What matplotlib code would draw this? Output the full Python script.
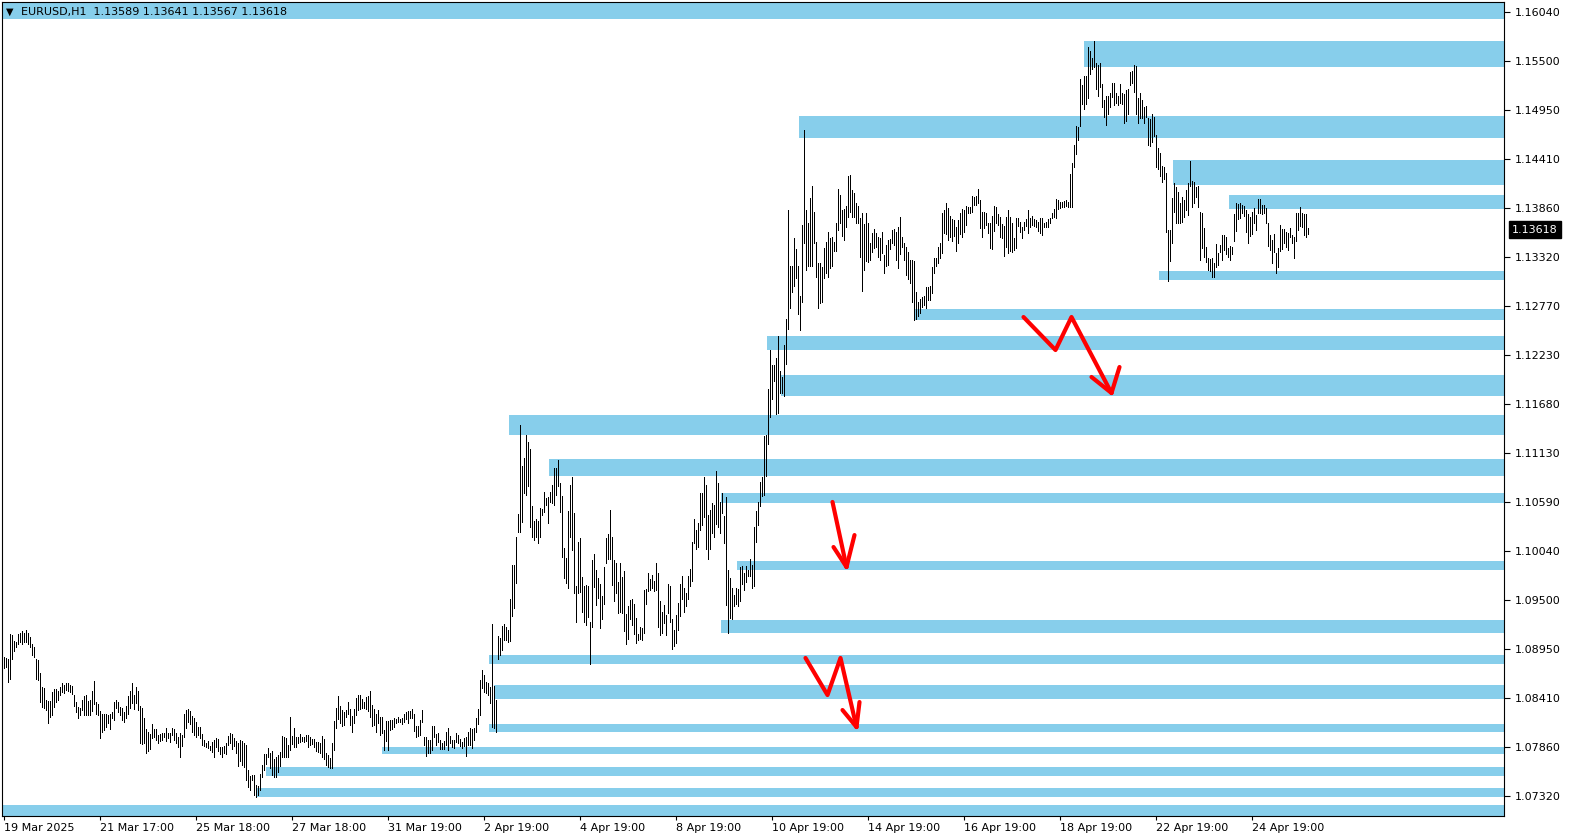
import numpy as np
import matplotlib
matplotlib.use("Agg")
import matplotlib.pyplot as plt

# EURUSD H1 bars, price x 10000 (one entry per hourly bar)
high_pips = [
    10887, 10885, 10884, 10912, 10911, 10904, 10903, 10912, 10913, 10915,
    10913, 10917, 10913, 10909, 10901, 10898, 10884, 10883, 10869, 10853,
    10852, 10839, 10838, 10838, 10848, 10851, 10851, 10849, 10853, 10858,
    10855, 10858, 10858, 10855, 10854, 10844, 10836, 10831, 10830, 10839,
    10843, 10844, 10838, 10839, 10849, 10860, 10836, 10834, 10826, 10823,
    10823, 10823, 10822, 10823, 10825, 10837, 10839, 10837, 10831, 10830,
    10825, 10832, 10843, 10849, 10858, 10844, 10853, 10849, 10832, 10830,
    10819, 10806, 10803, 10801, 10812, 10806, 10806, 10800, 10801, 10802,
    10802, 10808, 10802, 10802, 10808, 10806, 10802, 10798, 10802, 10800,
    10823, 10828, 10829, 10826, 10821, 10819, 10814, 10809, 10809,
    10801, 10794, 10791, 10793, 10788, 10792, 10794, 10796, 10795, 10786,
    10786, 10788, 10791, 10799, 10802, 10801, 10796, 10793, 10791, 10794,
    10793, 10791, 10789, 10761, 10754, 10755, 10755, 10744, 10743, 10756,
    10766, 10779, 10779, 10785, 10780, 10782, 10773, 10775, 10778, 10781,
    10799, 10798, 10796, 10789, 10820, 10799, 10808, 10798, 10798, 10801,
    10798, 10798, 10800, 10800, 10798, 10795, 10795, 10792, 10792, 10791,
    10799, 10795, 10780, 10778, 10774, 10791, 10815, 10830, 10843, 10832,
    10828, 10825, 10828, 10836, 10829, 10821, 10829, 10841, 10844, 10844,
    10840, 10836, 10842, 10843, 10849, 10833, 10829, 10823, 10828, 10820,
    10820, 10805, 10815, 10815, 10816, 10816, 10819, 10818, 10820, 10818,
    10819, 10823, 10825, 10826, 10826, 10829, 10823, 10810, 10810, 10816,
    10828, 10798, 10798, 10794, 10794, 10810, 10810, 10801, 10802, 10794,
    10791, 10793, 10803, 10808, 10799, 10794, 10794, 10802, 10800, 10795,
    10792, 10796, 10798, 10803, 10808, 10806, 10808, 10819, 10829, 10861,
    10872, 10867, 10859, 10858, 10853, 10923, 10854, 10839, 10910, 10908,
    10921, 10923, 10920, 10917, 10951, 10989, 10989, 11020, 11046, 11145,
    11099, 11108, 11133, 11126, 11118, 11055, 11038, 11040, 11038, 11052,
    11051, 11070, 11063, 11064, 11070, 11078, 11097, 11097, 11106, 11080,
    11066, 11008, 10997, 11049, 11078, 11087, 11047, 10965, 11015, 11019,
    10976, 10965, 10967, 10966, 10926,
    10994, 11001, 10983, 10974, 10968, 10954, 10987, 11019, 11023, 11050,
    11020, 10995, 10991, 10970, 10991, 10976, 10982, 10934, 10943, 10950,
    10951, 10946, 10930, 10912, 10920, 10919, 10961, 10962, 10980, 10973,
    10978, 10971, 10991, 10980, 10949, 10937, 10944, 10933, 10968, 10966,
    10929, 10917, 10933, 10947, 10968, 10977, 10963, 10958, 10977, 10984,
    11015, 11040, 11028, 11036, 11069, 11069, 11087, 11078, 11045, 11050,
    11058, 11056, 11093, 11080, 11059, 11069, 11043, 11064, 10983, 10974,
    10963, 10955, 10963, 10962, 10987, 10988, 10980, 10988, 10983, 10996,
    10989, 11031, 11049, 11059, 11081, 11087, 11132, 11134, 11185, 11228,
    11211, 11211, 11219, 11244, 11205, 11198, 11234, 11262, 11384, 11321,
    11321, 11353, 11340, 11321, 11288, 11367, 11473, 11384, 11369, 11397,
    11410, 11381, 11348, 11325, 11325, 11320, 11342, 11348, 11359, 11353,
    11354, 11348, 11369, 11407, 11400, 11384, 11385, 11388, 11422, 11423,
    11406, 11403, 11392, 11388, 11375, 11380, 11368, 11380, 11369, 11347,
    11358, 11363, 11358, 11354, 11353, 11359, 11334, 11345, 11350, 11351,
    11361, 11363, 11359, 11365, 11376, 11354, 11347, 11343, 11337, 11328,
    11328, 11327, 11292, 11281, 11285, 11287, 11288, 11298, 11298, 11299,
    11320, 11330, 11330, 11343, 11347, 11380, 11384, 11392, 11386, 11377,
    11374, 11373, 11365, 11373, 11380, 11385, 11384, 11388, 11387, 11387,
    11399, 11398, 11399, 11407, 11395, 11381, 11381, 11380, 11369, 11369,
    11377, 11388, 11387, 11379, 11376,
    11368, 11366, 11376, 11384, 11376, 11369, 11353, 11375, 11375, 11370,
    11365, 11370, 11374, 11384, 11375, 11377, 11374, 11373, 11370, 11375,
    11375, 11369, 11370, 11374, 11375, 11380, 11385, 11396, 11395, 11393,
    11393, 11394, 11395, 11393, 11424, 11436, 11456, 11477, 11476, 11529,
    11523, 11533, 11533, 11565, 11561, 11553, 11572, 11547, 11545, 11547,
    11524, 11506, 11510, 11511, 11514, 11525, 11525, 11514, 11511, 11524,
    11514, 11513, 11517, 11518, 11537, 11538, 11545, 11544, 11508, 11514,
    11506, 11498, 11499, 11486, 11485, 11490, 11487, 11467, 11453, 11447,
    11433, 11432, 11425, 11361, 11361, 11397, 11414, 11409, 11404, 11392,
    11398, 11395, 11406, 11414, 11438, 11416, 11415, 11409, 11410, 11381,
    11380, 11364, 11343, 11330, 11329, 11330, 11325, 11346, 11336, 11345,
    11356, 11356, 11354, 11341, 11344, 11343, 11379, 11391, 11390, 11391,
    11389, 11388, 11384, 11379, 11376, 11381, 11386, 11378, 11396, 11396,
    11389, 11389, 11386, 11369, 11356, 11350, 11357, 11336, 11341, 11367,
    11363, 11363, 11359, 11358, 11364, 11356, 11354, 11380, 11380, 11387,
    11380, 11379, 11379, 11364,
]
low_pips = [
    10874, 10875, 10859, 10862, 10884, 10893, 10898, 10901, 10903, 10901,
    10903, 10903, 10901, 10898, 10889, 10887, 10862, 10861, 10837, 10831,
    10830, 10828, 10813, 10820, 10822, 10831, 10837, 10839, 10844, 10848,
    10847, 10850, 10849, 10848, 10845, 10832, 10825, 10819, 10822, 10828,
    10822, 10822, 10822, 10822, 10826, 10834, 10823, 10822, 10796, 10803,
    10805, 10809, 10813, 10807, 10819, 10816, 10830, 10825, 10822, 10816,
    10814, 10819, 10823, 10830, 10835, 10829, 10835, 10828, 10791, 10790,
    10791, 10780, 10782, 10784, 10796, 10798, 10794, 10791, 10793, 10794,
    10798, 10793, 10796, 10792, 10800, 10794, 10791, 10786, 10775, 10788,
    10798, 10808, 10814, 10812, 10803, 10800, 10798, 10800, 10796,
    10789, 10788, 10786, 10785, 10783, 10781, 10775, 10786, 10782, 10779,
    10775, 10780, 10779, 10789, 10791, 10784, 10788, 10780, 10765, 10771,
    10766, 10764, 10750, 10742, 10739, 10750, 10733, 10731, 10733, 10739,
    10753, 10761, 10768, 10775, 10763, 10755, 10753, 10753, 10759, 10765,
    10775, 10775, 10775, 10775, 10783, 10790, 10786, 10786, 10791, 10792,
    10793, 10792, 10793, 10786, 10789, 10790, 10786, 10782, 10781, 10780,
    10775, 10773, 10766, 10764, 10763, 10763, 10783, 10808, 10818, 10813,
    10810, 10811, 10820, 10823, 10811, 10803, 10813, 10822, 10828, 10829,
    10830, 10830, 10829, 10826, 10820, 10810, 10811, 10803, 10813, 10800,
    10802, 10783, 10793, 10783, 10805, 10806, 10809, 10813, 10814, 10814,
    10812, 10814, 10818, 10813, 10819, 10819, 10804, 10798, 10799, 10800,
    10814, 10789, 10777, 10780, 10780, 10783, 10798, 10789, 10792, 10784,
    10784, 10784, 10789, 10783, 10791, 10786, 10785, 10792, 10791, 10788,
    10785, 10788, 10777, 10789, 10789, 10785, 10794, 10803, 10812, 10822,
    10852, 10848, 10847, 10844, 10835, 10809, 10808, 10803, 10884, 10889,
    10894, 10906, 10906, 10903, 10904, 10932, 10941, 10969, 11026, 11026,
    11037, 11069, 11067, 11077, 11031, 11020, 11017, 11020, 11013, 11020,
    11044, 11048, 11056, 11036, 11059, 11058, 11056, 11067, 11077, 11048,
    10998, 10974, 10969, 10963, 11020, 11006, 10958, 10926, 10958, 10959,
    10937, 10926, 10922, 10931, 10879,
    10920, 10964, 10944, 10952, 10919, 10929, 10946, 10991, 10996, 10996,
    10967, 10949, 10958, 10935, 10937, 10935, 10915, 10901, 10907, 10929,
    10922, 10912, 10902, 10906, 10907, 10906, 10913, 10946, 10960, 10961,
    10963, 10960, 10961, 10920, 10911, 10913, 10924, 10911, 10936, 10926,
    10895, 10899, 10902, 10917, 10932, 10951, 10937, 10943, 10951, 10965,
    10971, 11013, 11007, 11009, 11028, 11033, 11042, 11007, 10996, 11007,
    11025, 11020, 11034, 11031, 11025, 11047, 11013, 10944, 10913, 10930,
    10929, 10943, 10945, 10943, 10949, 10968, 10961, 10970, 10977, 10977,
    10963, 10966, 11015, 11033, 11054, 11066, 11067, 11088, 11124, 11153,
    11174, 11194, 11157, 11158, 11180, 11180, 11177, 11212, 11251, 11275,
    11293, 11299, 11308, 11268, 11250, 11281, 11347, 11317, 11321, 11321,
    11321, 11347, 11309, 11275, 11280, 11281, 11308, 11314, 11309, 11319,
    11321, 11338, 11338, 11362, 11369, 11355, 11350, 11365, 11376, 11381,
    11376, 11376, 11369, 11369, 11332, 11294, 11317, 11327, 11326, 11328,
    11337, 11341, 11343, 11332, 11328, 11336, 11314, 11321, 11323, 11340,
    11347, 11345, 11328, 11319, 11335, 11343, 11328, 11311, 11307, 11303,
    11281, 11261, 11262, 11266, 11269, 11276, 11278, 11275, 11284, 11284,
    11291, 11314, 11321, 11325, 11330, 11336, 11358, 11357, 11350, 11354,
    11349, 11355, 11338, 11347, 11357, 11354, 11359, 11367, 11380, 11380,
    11382, 11389, 11389, 11392, 11364, 11354, 11364, 11367, 11358, 11341,
    11340, 11360, 11369, 11367, 11354,
    11353, 11333, 11343, 11336, 11338, 11337, 11339, 11342, 11366, 11359,
    11353, 11361, 11366, 11358, 11365, 11367, 11366, 11365, 11360, 11358,
    11356, 11365, 11365, 11365, 11369, 11375, 11376, 11375, 11385, 11386,
    11387, 11387, 11388, 11387, 11387, 11387, 11432, 11446, 11462, 11477,
    11502, 11496, 11502, 11508, 11535, 11541, 11543, 11518, 11510, 11520,
    11498, 11487, 11478, 11491, 11498, 11509, 11500, 11503, 11500, 11503,
    11502, 11480, 11483, 11491, 11523, 11525, 11515, 11491, 11480, 11486,
    11486, 11480, 11487, 11456, 11455, 11459, 11466, 11432, 11429, 11421,
    11415, 11418, 11359, 11305, 11327, 11347, 11382, 11369, 11369, 11369,
    11370, 11376, 11384, 11378, 11410, 11387, 11391, 11398, 11387, 11328,
    11341, 11332, 11326, 11317, 11316, 11309, 11309, 11320, 11323, 11337,
    11328, 11339, 11335, 11332, 11328, 11335, 11349, 11360, 11374, 11375,
    11380, 11377, 11359, 11347, 11355, 11357, 11369, 11361, 11380, 11380,
    11379, 11380, 11369, 11344, 11339, 11325, 11337, 11314, 11320, 11338,
    11340, 11347, 11343, 11339, 11354, 11347, 11330, 11349, 11361, 11366,
    11365, 11356, 11354, 11357,
]

# time axis labels, one every 48 hourly bars
time_labels = ["19 Mar 2025", "21 Mar 17:00", "25 Mar 18:00", "27 Mar 18:00",
               "31 Mar 19:00", "2 Apr 19:00", "4 Apr 19:00", "8 Apr 19:00",
               "10 Apr 19:00", "14 Apr 19:00", "16 Apr 19:00", "18 Apr 19:00",
               "22 Apr 19:00", "24 Apr 19:00"]
bars_per_label = 48

price_ticks = [1.16040, 1.15500, 1.14950, 1.14410, 1.13860, 1.13320, 1.12770,
               1.12230, 1.11680, 1.11130, 1.10590, 1.10040, 1.09500, 1.08950,
               1.08410, 1.07860, 1.07320]

last_price = 1.13618
header = "EURUSD,H1  1.13589 1.13641 1.13567 1.13618"

# zones: first bar index, lower price, upper price (-5 = from the left edge)
zone_start = [-5, 540, 397.5, 584.5, 612.5, 577.5, 455, 381.5, 388.5, 252.5,
              272.5, 358.5, 366.5, 358.5, 242.5, 245, 242.5, 189, 131, 126, -5]
zone_low = [1.15965, 1.15428, 1.14638, 1.14115, 1.13849, 1.13059, 1.12614,
            1.12280, 1.11769, 1.11335, 1.10879, 1.10579, 1.09833, 1.09133,
            1.08788, 1.08399, 1.08032, 1.07787, 1.07542, 1.07309, 1.07050]
zone_high = [1.16200, 1.15717, 1.14883, 1.14393, 1.14004, 1.13159, 1.12736,
             1.12436, 1.12002, 1.11557, 1.11068, 1.10690, 1.09934, 1.09277,
             1.08888, 1.08554, 1.08121, 1.07865, 1.07643, 1.07409, 1.07220]

# hand drawn red arrows: (bar index, price) points, arrowhead arm tips
arrow_paths = [
    [(510, 1.12647), (526, 1.12280), (534, 1.12647), (554, 1.11802)],
    [(414.5, 1.10590), (421.5, 1.09867)],
    [(401, 1.08855), (412, 1.08443), (418.5, 1.08855), (426.5, 1.08087)],
]
arrow_arms = [
    [(544, 1.11980), (558, 1.12091)],
    [(415, 1.10089), (425.5, 1.10222)],
    [(419.5, 1.08276), (428, 1.08365)],
]

highs = np.array(high_pips) / 10000
lows = np.array(low_pips) / 10000
bar_x = np.arange(len(highs))

W, H = 1570, 840
fig = plt.figure(figsize=(W / 100, H / 100), dpi=100)
ax = fig.add_axes([2 / W, 24 / H, 1502 / W, 814 / H])
ax.set_xlim(-0.75, 750.25)
ax.set_ylim(1.070974, 1.161508)

zone_color = "#87CEEB"
for x0, lo, hi in zip(zone_start, zone_low, zone_high):
    ax.barh((lo + hi) / 2, 800 - x0, left=x0, height=hi - lo,
            color=zone_color, linewidth=0, zorder=1)

ax.vlines(bar_x, lows, highs, colors="black", linewidth=0.5,
          antialiased=False, zorder=2)

for path, arms in zip(arrow_paths, arrow_arms):
    px, py = zip(*path)
    ax.plot(px, py, color="red", lw=3, solid_capstyle="round",
            solid_joinstyle="round", zorder=3)
    for ax_, ay_ in arms:
        ax.plot([px[-1], ax_], [py[-1], ay_], color="red", lw=3,
                solid_capstyle="round", zorder=3)

# axes, ticks
for s in ax.spines.values():
    s.set_color("black")
    s.set_linewidth(0.8)

ax.set_xticks(np.arange(len(time_labels)) * bars_per_label, time_labels)
for lab in ax.get_xticklabels():
    lab.set_ha("left")
ax.tick_params(axis="x", length=3, width=0.8, pad=2, labelsize=8)

ax.yaxis.tick_right()
ax.set_yticks(price_ticks, [f"{p:.5f}" for p in price_ticks])
ax.tick_params(axis="y", length=4, width=0.8, pad=4, labelsize=8)

ax.text(1 + 8 / 1502, last_price, f"{last_price:.5f}",
        transform=ax.get_yaxis_transform(), ha="left", va="center",
        color="white", fontsize=8, clip_on=False,
        bbox=dict(facecolor="black", edgecolor="black",
                  boxstyle="square,pad=0.3"))

fig.text(6 / W, 1 - 12 / H, "\u25bc", fontsize=7, va="center")
fig.text(21 / W, 1 - 12.5 / H, header, fontsize=8, va="center")

fig.savefig("out.png", dpi=100)
